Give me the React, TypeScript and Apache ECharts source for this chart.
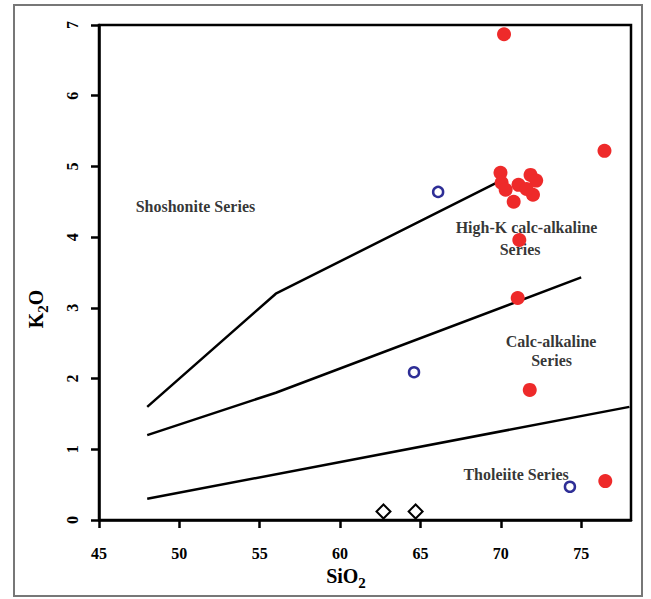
import React, { useEffect, useRef } from "react";
import * as echarts from "echarts";

const xTicks = [45, 50, 55, 60, 65, 70, 75];
const yTicks = [0, 1, 2, 3, 4, 5, 6, 7];

// Series boundary lines (SiO2, K2O)
const shoshoniteLine: [number, number][] = [[48, 1.6], [56, 3.2], [70, 4.8]];
const highKLine: [number, number][] = [[48, 1.2], [56, 1.8], [75, 3.43]];
const calcAlkLine: [number, number][] = [[48, 0.3], [78, 1.6]];

// Samples
const redSamples: [number, number][] = [
  [70.2, 6.87], [76.45, 5.22],
  [69.98, 4.91], [70.05, 4.77], [70.3, 4.67], [70.8, 4.5], [71.1, 4.74],
  [71.85, 4.88], [72.2, 4.8], [72.0, 4.6], [71.6, 4.68],
  [71.15, 3.96], [71.05, 3.14], [71.8, 1.84], [76.5, 0.55],
];
const blueSamples: [number, number][] = [[66.1, 4.64], [64.6, 2.09], [74.3, 0.47]];
const diamondSamples: [number, number][] = [[62.7, 0.12], [64.7, 0.12]];

const regionLabels: { text: string; x: number; y: number }[] = [
  { text: "Shoshonite Series", x: 51.0, y: 4.43 },
  { text: "High-K calc-alkaline", x: 71.6, y: 4.13 },
  { text: "Series", x: 71.2, y: 3.82 },
  { text: "Calc-alkaline", x: 73.13, y: 2.52 },
  { text: "Series", x: 73.16, y: 2.26 },
  { text: "Tholeiite Series", x: 70.95, y: 0.64 },
];

const FONT = '"Liberation Serif", "Times New Roman", serif';

export default function App() {
  const ref = useRef<HTMLDivElement>(null);
  useEffect(() => {
    if (!ref.current) return;
    const chart = echarts.init(ref.current, undefined, { renderer: "svg" });
    const lineStyle = { color: "#000", width: 2.5 };
    const richName = {
      m: { fontFamily: FONT, fontWeight: "bold", fontSize: 20, fill: "#000", verticalAlign: "bottom", padding: [0, 0, 5, 0] },
      s: { fontFamily: FONT, fontWeight: "bold", fontSize: 15, fill: "#000", verticalAlign: "bottom" },
    };
    chart.setOption({
      animation: false,
      backgroundColor: "#fff",
      grid: {
        left: 99,
        top: 25,
        right: 20,
        bottom: 79,
        show: true,
        borderColor: "#000",
        borderWidth: 2.5,
      },
      xAxis: {
        type: "value",
        min: 45,
        max: 78.1,
        interval: 5,
        axisLine: { show: true, onZero: false, lineStyle: { color: "#000", width: 2.5 } },
        axisTick: { show: true, length: 8, customValues: xTicks, lineStyle: { color: "#000", width: 2.5 } },
        axisLabel: {
          margin: 25,
          color: "#000",
          fontFamily: FONT,
          fontWeight: "bold",
          fontSize: 16,
          customValues: xTicks,
        },
        splitLine: { show: false },
      },
      yAxis: {
        type: "value",
        min: 0,
        max: 7,
        interval: 1,
        axisLine: { show: true, onZero: false, lineStyle: { color: "#000", width: 2.5 } },
        axisTick: { show: true, length: 8, customValues: yTicks, lineStyle: { color: "#000", width: 2.5 } },
        axisLabel: {
          margin: 19,
          rotate: 90,
          color: "#000",
          fontFamily: FONT,
          fontWeight: "bold",
          fontSize: 16,
          customValues: yTicks,
        },
        splitLine: { show: false },
      },
      graphic: [
        {
          type: "rect",
          shape: { x: 14, y: 5, width: 628, height: 591 },
          style: { fill: "none", stroke: "#777", lineWidth: 2 },
          silent: true,
        },
        {
          type: "text",
          x: 346,
          y: 578,
          style: { text: "{m|SiO}{s|2}", align: "center", verticalAlign: "middle", rich: richName },
        },
        {
          type: "text",
          x: 38,
          y: 309,
          rotation: Math.PI / 2,
          style: { text: "{m|K}{s|2}{m|O}", align: "center", verticalAlign: "middle", rich: richName },
        },
      ],
      series: [
        { type: "line", data: shoshoniteLine, symbol: "none", lineStyle, silent: true, z: 2 },
        { type: "line", data: highKLine, symbol: "none", lineStyle, silent: true, z: 2 },
        { type: "line", data: calcAlkLine, symbol: "none", lineStyle, silent: true, z: 2 },
        {
          type: "scatter",
          data: regionLabels.map((d) => ({ value: [d.x, d.y], name: d.text })),
          symbolSize: 0,
          z: 3,
          label: {
            show: true,
            position: "inside",
            formatter: (p: any) => p.name,
            color: "#000",
            fontFamily: FONT,
            fontWeight: "bold",
            fontSize: 16,
          },
        },
        {
          type: "scatter",
          data: redSamples,
          symbol: "circle",
          symbolSize: 14,
          itemStyle: { color: "#ee2a2a", opacity: 1 },
          z: 5,
        },
        {
          type: "scatter",
          data: blueSamples,
          symbol: "circle",
          symbolSize: 10,
          itemStyle: { color: "rgba(255,255,255,0)", borderColor: "#2e2e96", borderWidth: 2.5, opacity: 1 },
          z: 5,
        },
        {
          type: "scatter",
          data: diamondSamples,
          symbol: "diamond",
          symbolSize: [14, 14],
          itemStyle: { color: "rgba(255,255,255,0)", borderColor: "#000", borderWidth: 2, opacity: 1 },
          z: 5,
        },
      ],
    });
    return () => chart.dispose();
  }, []);
  return (
    <div
      ref={ref}
      style={{ position: "absolute", left: 0, top: 0, width: 651, height: 599 }}
    />
  );
}
